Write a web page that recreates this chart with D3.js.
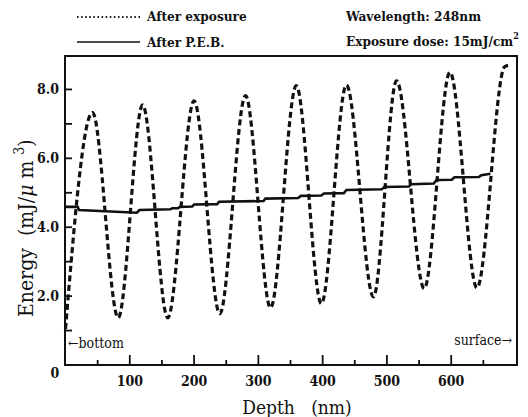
<!DOCTYPE html>
<html><head><meta charset="utf-8">
<script src="https://cdn.jsdelivr.net/npm/d3@7"></script>
<style>
html,body{margin:0;padding:0;background:#fff;}
svg{display:block;}
</style></head>
<body>
<svg id="chart" width="528" height="417"></svg>
<script>
// Depth (nm) and energy (mJ/um^3)
const exposureDepth = [0, 42, 82, 120, 159, 200, 240, 280, 319, 359, 398, 437, 479, 515, 558, 598, 640, 683, 689];
const exposureEnergy = [1.05, 7.33, 1.37, 7.55, 1.37, 7.67, 1.49, 7.82, 1.66, 8.11, 1.78, 8.13, 1.98, 8.25, 2.22, 8.50, 2.24, 8.66, 8.70];

const pebDepth = [0, 19, 21, 111, 115, 163, 166, 175, 178, 197, 200, 236, 239, 308, 311, 362, 366, 398, 402, 433, 437, 492, 496, 534, 538, 573, 577, 601, 605, 643, 647, 661];
const pebEnergy = [4.59, 4.59, 4.50, 4.42, 4.50, 4.52, 4.55, 4.55, 4.59, 4.60, 4.66, 4.67, 4.74, 4.76, 4.83, 4.85, 4.91, 4.92, 4.98, 4.99, 5.08, 5.10, 5.17, 5.18, 5.25, 5.27, 5.37, 5.38, 5.45, 5.46, 5.51, 5.55];

const xMajorTicks = [100, 200, 300, 400, 500, 600];
const xMinorTicks = [50, 150, 250, 350, 450, 550, 650];
const yTickValues = [1, 2, 3, 4, 5, 6, 7, 8];
const yTickLabels = [2, 4, 6, 8];

const FONT = "'DejaVu Serif Condensed', 'DejaVu Serif', 'Liberation Serif', serif";
const svg = d3.select("#chart").attr("font-family", FONT).attr("fill", "#111")
  .style("font-stretch", "condensed");
const L = 65, R = 517, T = 56, B = 365;
const x = d3.scaleLinear().domain([0, 700]).range([65.5, 515.5]);
const y = d3.scaleLinear().domain([0, 9]).range([365, 55]);

const expData = exposureDepth.map((d, i) => [d, exposureEnergy[i]]);
const pebData = pebDepth.map((d, i) => [d, pebEnergy[i]]);

svg.append("path").datum(pebData)
  .attr("d", d3.line().x(d => x(d[0])).y(d => y(d[1])))
  .attr("fill", "none").attr("stroke", "#111").attr("stroke-width", 2.6);

svg.append("path").datum(expData)
  .attr("d", d3.line().x(d => x(d[0])).y(d => y(d[1])).curve(d3.curveMonotoneX))
  .attr("fill", "none").attr("stroke", "#111").attr("stroke-width", 3.2)
  .attr("stroke-dasharray", "6,3.5");

// frame
svg.append("rect").attr("x", L).attr("y", T).attr("width", R - L).attr("height", B - T)
  .attr("fill", "none").attr("stroke", "#111").attr("stroke-width", 2);

// y ticks (inward)
svg.append("g").selectAll("line").data(yTickValues).join("line")
  .attr("x1", L).attr("x2", L + 7).attr("y1", d => y(d)).attr("y2", d => y(d))
  .attr("stroke", "#111").attr("stroke-width", 1.8);
svg.append("g").selectAll("text").data(yTickLabels).join("text")
  .attr("x", 59).attr("y", d => y(d) + 5).attr("text-anchor", "end")
  .attr("font-size", 14).attr("font-weight", "bold").text(d => d.toFixed(1));

// x ticks (inward)
svg.append("g").selectAll("line").data(xMajorTicks).join("line")
  .attr("x1", d => x(d)).attr("x2", d => x(d)).attr("y1", B).attr("y2", B - 10)
  .attr("stroke", "#111").attr("stroke-width", 1.8);
svg.append("g").selectAll("line").data(xMinorTicks).join("line")
  .attr("x1", d => x(d)).attr("x2", d => x(d)).attr("y1", B).attr("y2", B - 5)
  .attr("stroke", "#111").attr("stroke-width", 1.8);
svg.append("g").selectAll("text").data(xMajorTicks).join("text")
  .attr("x", d => x(d)).attr("y", 386).attr("text-anchor", "middle")
  .attr("font-size", 14).attr("font-weight", "bold").text(d => d);
svg.append("text").attr("x", 55).attr("y", 378).attr("text-anchor", "middle")
  .attr("font-size", 14).attr("font-weight", "bold").text("0");

// axis titles
svg.append("text").attr("x", 297).attr("y", 414).attr("text-anchor", "middle")
  .attr("font-size", 19).style("white-space", "pre").text("Depth   (nm)");
const yt = svg.append("text").attr("transform", "translate(33,317) rotate(-90)")
  .attr("text-anchor", "start").attr("font-size", 21).style("white-space", "pre");
yt.append("tspan").text("Energy  (mJ/");
yt.append("tspan").attr("font-style", "italic").text("\u03bc");
yt.append("tspan").text(" m ");
yt.append("tspan").attr("font-size", 14).attr("dy", -9).text("3");
yt.append("tspan").attr("dy", 9).text(")");

// in-plot labels
svg.append("text").attr("x", 68).attr("y", 348).attr("font-size", 14).text("\u2190bottom");
svg.append("text").attr("x", 512).attr("y", 345).attr("text-anchor", "end").attr("font-size", 14).text("surface\u2192");

// legend
svg.append("line").attr("x1", 77).attr("x2", 140).attr("y1", 17).attr("y2", 17)
  .attr("stroke", "#111").attr("stroke-width", 1.8).attr("stroke-dasharray", "1.5,2.6");
svg.append("text").attr("x", 147).attr("y", 21).attr("font-size", 13.5).attr("font-weight", "bold").text("After exposure");
svg.append("line").attr("x1", 77).attr("x2", 140).attr("y1", 42).attr("y2", 42)
  .attr("stroke", "#111").attr("stroke-width", 1.5);
svg.append("text").attr("x", 147).attr("y", 47).attr("font-size", 13.5).attr("font-weight", "bold").text("After P.E.B.");

svg.append("text").attr("x", 346).attr("y", 21).attr("font-size", 13.5).attr("font-weight", "bold").text("Wavelength: 248nm");
const ed = svg.append("text").attr("x", 346).attr("y", 46).attr("font-size", 13.5).attr("font-weight", "bold");
ed.append("tspan").text("Exposure dose: 15mJ/cm");
ed.append("tspan").attr("font-size", 9).attr("dy", -7).text("2");
</script>
</body></html>
